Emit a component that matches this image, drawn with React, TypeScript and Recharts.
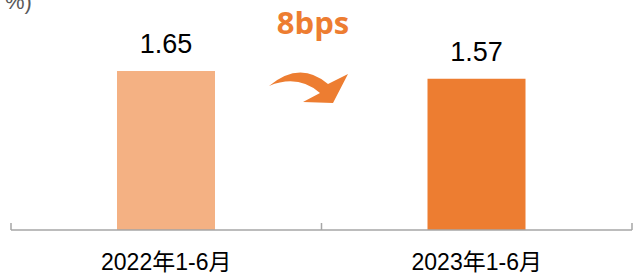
import { Bar, BarChart, Cell, Customized, LabelList, XAxis, YAxis } from 'recharts';

const periods = ['2022年1-6月', '2023年1-6月'];
const ratios = [1.65, 1.57];
const barColors = ['#F4B183', '#ED7D31'];
const changeLabel = '8bps';

const rows = periods.map((period, i) => ({ period, ratio: ratios[i], slot: i + 0.5 }));

const ORANGE = '#ED7D31';
const AXIS = '#A6A6A6';

// category text sits well below the axis line, so draw it ourselves
function PeriodTick({ x, y, payload }: any) {
  return (
    <text
      x={x}
      y={y + 31}
      textAnchor="middle"
      fontSize={23}
      fill="#000"
      fontFamily="'Liberation Sans', Arial, 'Noto Sans CJK SC', sans-serif"
    >
      {payload.value}
    </text>
  );
}

const NoTick = () => <g />;

// the "8bps" call-out and curved arrow between the bars
function ChangeNote() {
  return (
    <g>
      <text x={5} y={9} fontSize={22} fill="#595959" fontFamily="'Liberation Sans', Arial, sans-serif">
        %)
      </text>
      <text
        x={313}
        y={34}
        textAnchor="middle"
        fontSize={31}
        fontWeight={700}
        fill={ORANGE}
        fontFamily="'Open Sans', sans-serif"
      >
        {changeLabel}
      </text>
      <path
        d="M269,86 Q300,60 328,84 L348,74 L333,103 L303,102 L320,93 Q298,74 269,86 Z"
        fill={ORANGE}
      />
    </g>
  );
}

export default function App() {
  return (
    <div style={{ position: 'absolute', left: 0, top: 0, width: 633, height: 276 }}>
      <BarChart
        width={633}
        height={276}
        data={rows}
        margin={{ top: 0, right: 1, bottom: 0, left: 11 }}
        barSize={98}
      >
        <XAxis
          xAxisId="a"
          dataKey="slot"
          type="number"
          domain={[0, 2]}
          ticks={[0, 1, 2]}
          height={1}
          tick={<NoTick />}
          tickSize={-7}
          stroke={AXIS}
          axisLine={{ stroke: AXIS, strokeWidth: 1.5 }}
          tickLine={{ stroke: AXIS, strokeWidth: 1.5 }}
        />
        <XAxis
          xAxisId="b"
          dataKey="period"
          height={45}
          axisLine={false}
          tickLine={false}
          tick={<PeriodTick />}
          interval={0}
        />
        <YAxis hide domain={[0, 2.386]} allowDataOverflow />
        <Bar dataKey="ratio" xAxisId="b" isAnimationActive={false}>
          {rows.map((_, i) => (
            <Cell key={i} fill={barColors[i]} />
          ))}
          <LabelList
            dataKey="ratio"
            position="top"
            offset={18}
            fontSize={27}
            fill="#000"
            fontFamily="'Liberation Sans', Arial, sans-serif"
          />
        </Bar>
        <Customized component={<ChangeNote />} />
      </BarChart>
    </div>
  );
}
